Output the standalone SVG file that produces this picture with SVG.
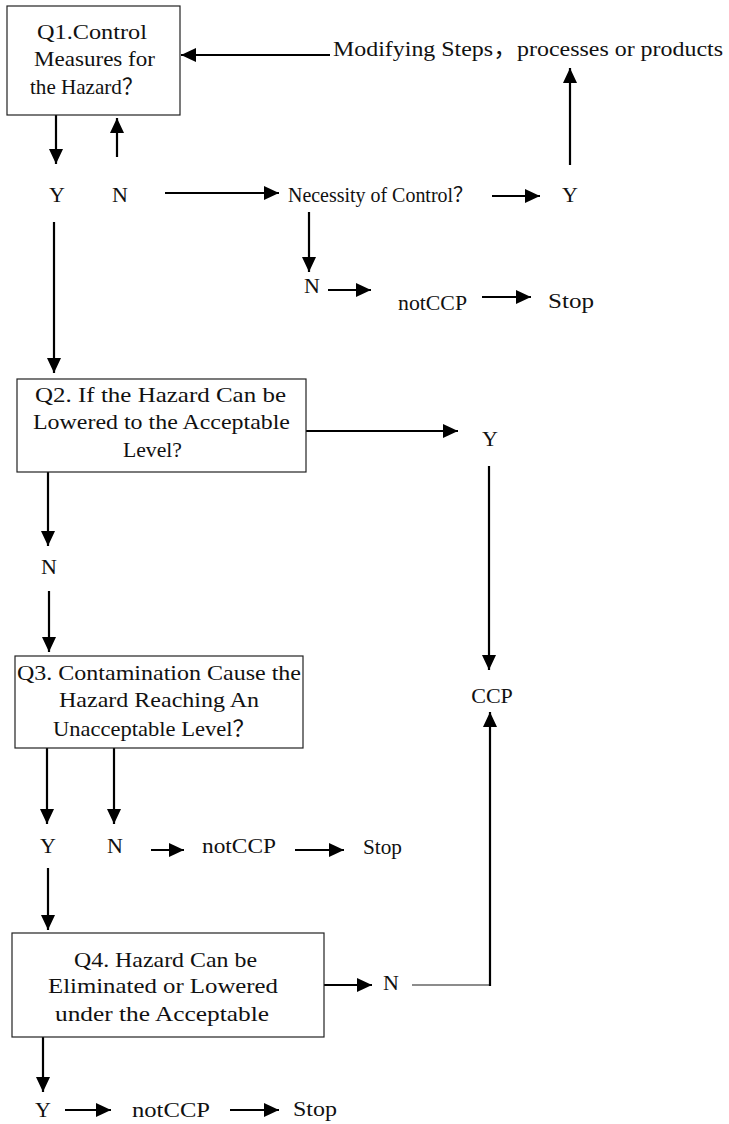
<svg xmlns="http://www.w3.org/2000/svg" width="729" height="1124" viewBox="0 0 729 1124">
<style>
text{font-family:"Liberation Serif","Times New Roman","Noto Sans CJK SC",serif;fill:#111;font-size:22px}
.box{fill:#fff;stroke:#222;stroke-width:1.2}
.c{text-anchor:middle}
.sm{font-size:20px}
.ln{stroke:#000;stroke-width:2.2;fill:none}
.thin{stroke:#666;stroke-width:1.3;fill:none}
</style>
<defs>
<marker id="ah" markerUnits="userSpaceOnUse" markerWidth="16" markerHeight="14" refX="15" refY="7" orient="auto">
<path d="M0,0 L15,7 L0,14 z" fill="#000"/>
</marker>
</defs>

<g id="connectors">
<line class="ln" x1="330" y1="55" x2="181" y2="55" marker-end="url(#ah)"/>
<line class="ln" x1="56" y1="115" x2="56" y2="164" marker-end="url(#ah)"/>
<line class="ln" x1="117" y1="157" x2="117" y2="118" marker-end="url(#ah)"/>
<line class="ln" x1="165" y1="193" x2="279" y2="193" marker-end="url(#ah)"/>
<line class="ln" x1="570" y1="165" x2="570" y2="68" marker-end="url(#ah)"/>
<line class="ln" x1="492" y1="196" x2="540" y2="196" marker-end="url(#ah)"/>
<line class="ln" x1="309" y1="212" x2="309" y2="272" marker-end="url(#ah)"/>
<line class="ln" x1="328" y1="290" x2="371" y2="290" marker-end="url(#ah)"/>
<line class="ln" x1="482" y1="297" x2="531" y2="297" marker-end="url(#ah)"/>
<line class="ln" x1="54" y1="222" x2="54" y2="373" marker-end="url(#ah)"/>
<line class="ln" x1="306" y1="431" x2="458" y2="431" marker-end="url(#ah)"/>
<line class="ln" x1="489" y1="466" x2="489" y2="670" marker-end="url(#ah)"/>
<line class="ln" x1="48" y1="472" x2="48" y2="546" marker-end="url(#ah)"/>
<line class="ln" x1="49" y1="591" x2="49" y2="652" marker-end="url(#ah)"/>
<line class="ln" x1="47" y1="748" x2="47" y2="824" marker-end="url(#ah)"/>
<line class="ln" x1="114" y1="748" x2="114" y2="824" marker-end="url(#ah)"/>
<line class="ln" x1="151" y1="850" x2="184" y2="850" marker-end="url(#ah)"/>
<line class="ln" x1="295" y1="850" x2="344" y2="850" marker-end="url(#ah)"/>
<line class="ln" x1="48" y1="868" x2="48" y2="930" marker-end="url(#ah)"/>
<line class="ln" x1="324" y1="985" x2="372" y2="985" marker-end="url(#ah)"/>
<line class="thin" x1="412" y1="985" x2="490" y2="985"/>
<line class="ln" x1="490" y1="986" x2="490" y2="712" marker-end="url(#ah)"/>
<line class="ln" x1="43" y1="1037" x2="43" y2="1092" marker-end="url(#ah)"/>
<line class="ln" x1="65" y1="1110" x2="111" y2="1110" marker-end="url(#ah)"/>
<line class="ln" x1="230" y1="1110" x2="279" y2="1110" marker-end="url(#ah)"/>
</g>

<g id="q1">
<rect class="box" x="7" y="6" width="173" height="109"/>
<text x="37" y="39" textLength="110" lengthAdjust="spacingAndGlyphs">Q1.Control</text>
<text x="34" y="66" textLength="121" lengthAdjust="spacingAndGlyphs">Measures for</text>
<text x="30" y="94" textLength="113" lengthAdjust="spacingAndGlyphs">the Hazard？</text>
</g>

<g id="modify">
<text x="333" y="56" textLength="390" lengthAdjust="spacingAndGlyphs">Modifying Steps，processes or products</text>
</g>

<g id="q1-y"><text class="c" x="57" y="202">Y</text></g>
<g id="q1-n"><text class="c" x="120" y="202">N</text></g>

<g id="necessity">
<text x="288" y="202" class="sm" textLength="185" lengthAdjust="spacingAndGlyphs">Necessity of Control？</text>
</g>
<g id="nec-y"><text class="c" x="570" y="202">Y</text></g>
<g id="nec-n"><text class="c" x="312" y="293">N</text></g>
<g id="notccp1"><text x="398" y="310" textLength="69" lengthAdjust="spacingAndGlyphs">notCCP</text></g>
<g id="stop1"><text x="548" y="308" class="sm" textLength="46" lengthAdjust="spacingAndGlyphs">Stop</text></g>

<g id="q2">
<rect class="box" x="17" y="379" width="289" height="93"/>
<text x="35" y="402" textLength="251" lengthAdjust="spacingAndGlyphs">Q2. If  the Hazard Can be</text>
<text x="33" y="429" textLength="257" lengthAdjust="spacingAndGlyphs">Lowered to the Acceptable</text>
<text x="123" y="457" textLength="59" lengthAdjust="spacingAndGlyphs">Level?</text>
</g>
<g id="q2-y"><text class="c" x="490" y="446">Y</text></g>
<g id="ccp"><text class="c" x="492" y="703">CCP</text></g>
<g id="q2-n"><text class="c" x="49" y="574">N</text></g>

<g id="q3">
<rect class="box" x="15" y="656" width="288" height="92"/>
<text x="17" y="680" textLength="284" lengthAdjust="spacingAndGlyphs">Q3. Contamination Cause the</text>
<text x="59" y="707" textLength="200" lengthAdjust="spacingAndGlyphs">Hazard Reaching An</text>
<text x="53" y="736" textLength="202" lengthAdjust="spacingAndGlyphs">Unacceptable Level？</text>
</g>
<g id="q3-y"><text class="c" x="48" y="853">Y</text></g>
<g id="q3-n"><text class="c" x="115" y="853">N</text></g>
<g id="notccp2"><text x="202" y="853" textLength="74" lengthAdjust="spacingAndGlyphs">notCCP</text></g>
<g id="stop2"><text x="363" y="854" class="sm" textLength="39" lengthAdjust="spacingAndGlyphs">Stop</text></g>

<g id="q4">
<rect class="box" x="12" y="933" width="312" height="104"/>
<text x="74" y="967" textLength="183" lengthAdjust="spacingAndGlyphs">Q4. Hazard Can be</text>
<text x="48" y="993" textLength="230" lengthAdjust="spacingAndGlyphs">Eliminated or Lowered</text>
<text x="55" y="1021" textLength="214" lengthAdjust="spacingAndGlyphs">under  the Acceptable</text>
</g>
<g id="q4-n"><text x="383" y="990">N</text></g>
<g id="q4-y"><text class="c" x="43" y="1117">Y</text></g>
<g id="notccp3"><text x="132" y="1117" textLength="78" lengthAdjust="spacingAndGlyphs">notCCP</text></g>
<g id="stop3"><text x="293" y="1116" class="sm" textLength="44" lengthAdjust="spacingAndGlyphs">Stop</text></g>
</svg>
